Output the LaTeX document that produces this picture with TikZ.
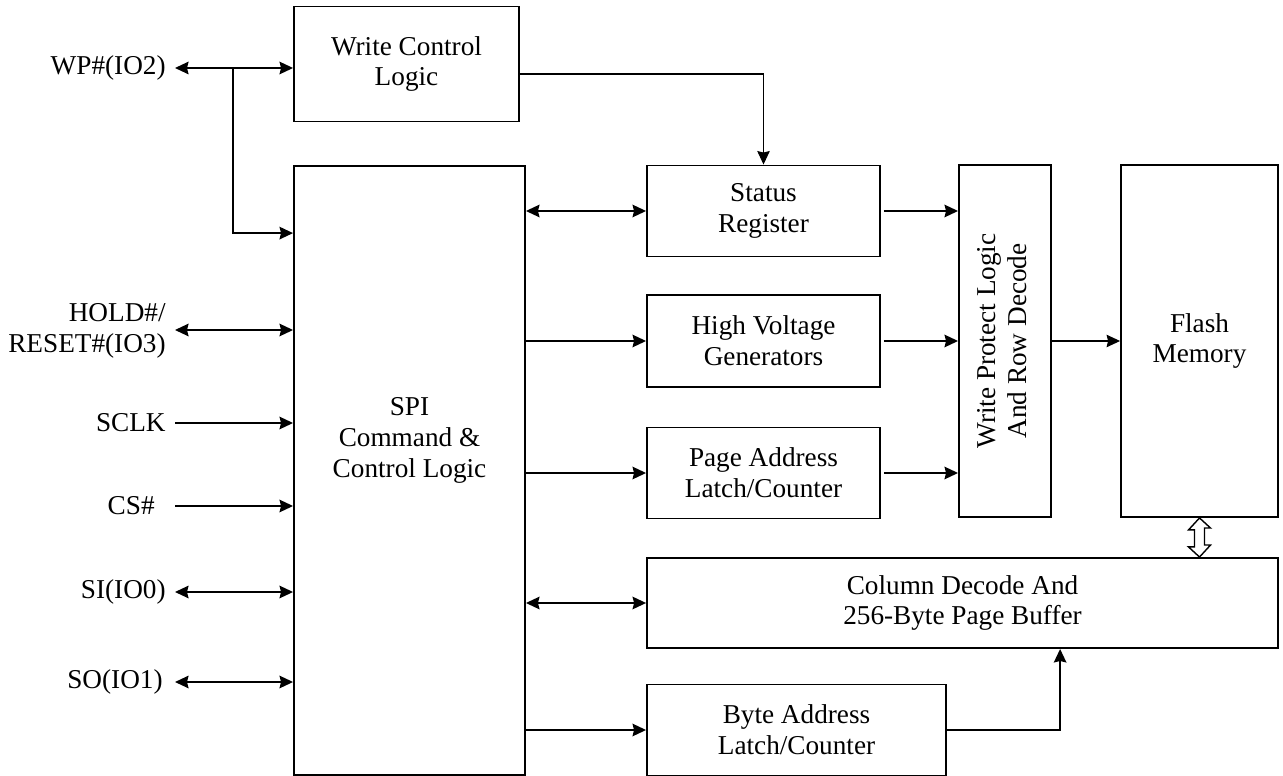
\documentclass[tikz,border=0pt]{standalone}
\usepackage{graphicx}
\usepackage{fontspec}
\setmainfont{Liberation Serif}
\usetikzlibrary{arrows.meta,calc}

\begin{document}
\begin{tikzpicture}[x=0.02cm, y=-0.02cm,
    font=\fontsize{15.5}{17.6}\selectfont,
    blk/.style={draw, line width=1.1pt, align=center, inner sep=0pt},
    lbl/.style={anchor=east, align=right, inner sep=0pt},
    arr/.style={line width=1.1pt, -{Stealth[length=0.27cm, width=0.25cm, inset=0.03cm]}},
    darr/.style={line width=1.1pt, {Stealth[length=0.27cm, width=0.25cm, inset=0.03cm]}-{Stealth[length=0.27cm, width=0.25cm, inset=0.03cm]}},
    tarr/.style={line width=0.6pt, -{Stealth[length=0.27cm, width=0.25cm, inset=0.03cm]}}]
                \useasboundingbox (0,0) rectangle (1283,776);

                \node[blk, minimum width=4.5cm, minimum height=2.3cm] (wcl) at (406.5,64) {Write Control\\Logic};
                \node[blk, minimum width=4.62cm, minimum height=12.18cm,
                      label={[align=center, yshift=0.6cm]center:SPI\\Command \&\\Control Logic}] (spi) at (409.5,470.5) {};
                \node[blk, minimum width=4.66cm, minimum height=1.82cm] (status) at (763.5,211) {Status\\Register};
                \node[blk, minimum width=4.66cm, minimum height=1.84cm] (hv) at (763.5,341) {High Voltage\\Generators};
                \node[blk, minimum width=4.66cm, minimum height=1.82cm] (page) at (763.5,473) {Page Address\\Latch/Counter};
                \node[blk, minimum width=1.84cm, minimum height=7.04cm] (wp) at (1005,341)
                      {\rotatebox{90}{\begin{tabular}{@{}c@{}}Write Protect Logic\\And Row Decode\end{tabular}}};
                \node[blk, minimum width=3.14cm, minimum height=7.04cm] (flash) at (1199.5,341) {Flash\\Memory};
                \node[blk, minimum width=12.62cm, minimum height=1.8cm] (column) at (962.5,603) {Column Decode And\\256-Byte Page Buffer};
                \node[blk, minimum width=5.98cm, minimum height=1.82cm] (byte) at (796.5,730) {Byte Address\\Latch/Counter};

                % pins
                \node[lbl] (wpl) at (166,68) {WP\#(IO2)};
                \node[lbl] (holdl) at (166,331) {HOLD\#/\\RESET\#(IO3)};
                \node[lbl] (sclkl) at (166,423) {SCLK};
                \node[lbl] (csl) at (155,506) {CS\#};
                \node[lbl] (sil) at (166,592) {SI(IO0)};
                \node[lbl] (sol) at (163,682) {SO(IO1)};
                \coordinate (wpj) at ($(wpl.east)+(67,0)$);

                \draw[darr] ($(wpl.east)+(9,0)$) -- (wcl.west |- wpl.east);
                \draw[arr] (wpj) |- ($(spi.north west)+(0,68)$);
                \draw[darr] ($(holdl.east)+(9,-1)$) -- ($(spi.west |- holdl.east)+(0,-1)$);
                \draw[arr] ($(sclkl.east)+(9,0)$) -- (spi.west |- sclkl.east);
                \draw[arr] ($(csl.east)+(20,0)$) -- (spi.west |- csl.east);
                \draw[darr] ($(sil.east)+(9,0)$) -- (spi.west |- sil.east);
                \draw[darr] ($(sol.east)+(12,0)$) -- (spi.west |- sol.east);

                % inner paths
                \draw[tarr] ($(wcl.east)+(0,10)$) -| (status.north);
                \draw[darr] (spi.east |- status.west) -- (status.west);
                \draw[arr] (spi.east |- hv.west) -- (hv.west);
                \draw[arr] (spi.east |- page.west) -- (page.west);
                \draw[darr] (spi.east |- column.west) -- (column.west);
                \draw[arr] (spi.east |- byte.west) -- (byte.west);
                \draw[arr] ($(status.east)+(3,0)$) -- (wp.west |- status.east);
                \draw[arr] ($(hv.east)+(3,0)$) -- (wp.west |- hv.east);
                \draw[arr] ($(page.east)+(3,0)$) -- (wp.west |- page.east);
                \draw[tarr] (wp) -- (flash);
                \draw[arr] (byte.east) -| ($(column.south west)+(414,0)$);
                \draw[line width=0.8pt, fill=white] (flash.south) -- ++(-11,12) -- ++(6,0) -- ++(0,17) -- ++(-6,0)
                      -- (column.north -| flash.south) -- ++(11,-12) -- ++(-6,0) -- ++(0,-17) -- ++(6,0) -- cycle;
            \end{tikzpicture}
\end{document}
